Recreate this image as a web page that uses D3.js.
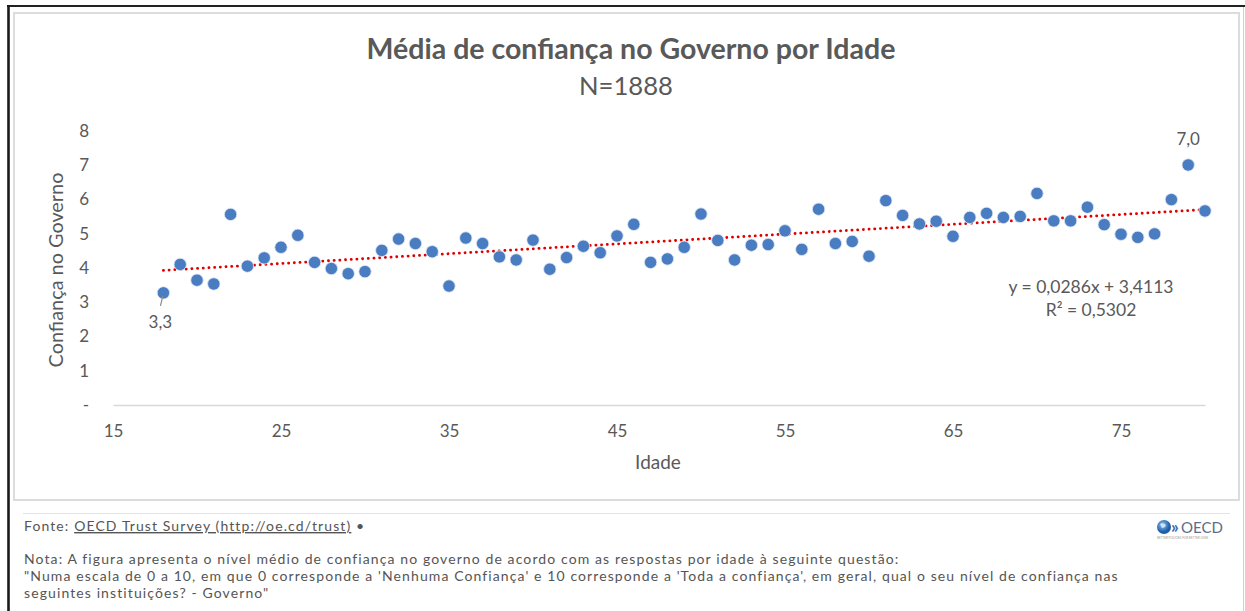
<!DOCTYPE html>
<html><head><meta charset="utf-8">
<script src="https://cdn.jsdelivr.net/npm/d3@7"></script>
<style>body{margin:0;background:#fff;} svg{display:block;}</style>
</head><body><svg id="c" width="1245" height="611"></svg>
<script>
// ---- data ----
const ages = [18,19,20,21,22,23,24,25,26,27,28,29,30,31,32,33,34,35,36,37,38,39,40,41,42,43,44,45,46,47,48,49,
  50,51,52,53,54,55,56,57,58,59,60,61,62,63,64,65,66,67,68,69,70,71,72,73,74,75,76,77,78,79,80];
const confidence = [3.27,4.10,3.64,3.53,5.56,4.05,4.29,4.60,4.95,4.16,3.98,3.83,3.89,4.51,4.84,4.71,4.47,3.47,4.87,4.71,
  4.32,4.23,4.81,3.96,4.30,4.63,4.44,4.93,5.27,4.16,4.26,4.60,5.57,4.80,4.23,4.66,4.68,5.08,4.54,5.71,4.71,4.77,
  4.34,5.96,5.53,5.28,5.36,4.92,5.47,5.59,5.47,5.50,6.17,5.37,5.37,5.77,5.26,4.98,4.89,4.99,5.99,7.00,5.66];
const xTicks = [15,25,35,45,55,65,75];
const yTicks = [0,1,2,3,4,5,6,7,8];
const yTickLabels = ["-","1","2","3","4","5","6","7","8"];
const trendSlope = 0.0286;
const trendIntercept = 3.4113;
const labeledAges = [18,79];
const titleText = "Média de confiança no Governo por Idade";
const subtitleText = "N=1888";
const xTitle = "Idade";
const yTitle = "Confiança no Governo";
const eqLines = ["y = 0,0286x + 3,4113", "R² = 0,5302"];
const sourcePrefix = "Fonte: ";
const sourceLink = "OECD Trust Survey (http://oe.cd/trust)";
const noteLines = [
  "Nota: A figura apresenta o nível médio de confiança no governo de acordo com as respostas por idade à seguinte questão:",
  "\"Numa escala de 0 a 10, em que 0 corresponde a 'Nenhuma Confiança' e 10 corresponde a 'Toda a confiança', em geral, qual o seu nível de confiança nas",
  "seguintes instituições? - Governo\""
];

// ---- drawing ----
const svg = d3.select("#c");
const FONT = "Lato, 'Open Sans', sans-serif";
const TXT = "#595959";

function fit(sel, target){
  const w = sel.node().getComputedTextLength();
  const fs = parseFloat(sel.attr("font-size"));
  sel.attr("font-size", fs*target/w);
  return fs*target/w;
}

// frame
svg.append("rect").attr("x",0).attr("y",0).attr("width",1245).attr("height",611).attr("fill","#fff");
svg.append("line").attr("x1",7).attr("x2",1245).attr("y1",6).attr("y2",6).attr("stroke","#222").attr("stroke-width",2);
svg.append("line").attr("x1",8.5).attr("x2",8.5).attr("y1",5).attr("y2",611).attr("stroke","#1a1a1a").attr("stroke-width",2.6);
svg.append("line").attr("x1",1243.5).attr("x2",1243.5).attr("y1",7).attr("y2",611).attr("stroke","#d0d0d0").attr("stroke-width",1);
svg.append("rect").attr("x",14).attr("y",13).attr("width",1225).attr("height",487)
  .attr("fill","none").attr("stroke","#dcdcdc").attr("stroke-width",2);
svg.append("line").attr("x1",23).attr("x2",1230).attr("y1",513.5).attr("y2",513.5).attr("stroke","#e3e3e3").attr("stroke-width",1);

// scales
const x = d3.scaleLinear().domain([15,80]).range([113,1205]);
const y = d3.scaleLinear().domain([0,8]).range([405,130.7]);

// titles
const t1 = svg.append("text").attr("x",631).attr("y",59).attr("text-anchor","middle")
  .attr("font-family",FONT).attr("font-weight","bold").attr("font-size",28).attr("fill",TXT).text(titleText);
fit(t1,529);
const t2 = svg.append("text").attr("x",626).attr("y",95).attr("text-anchor","middle")
  .attr("font-family",FONT).attr("font-size",26).attr("fill",TXT).text(subtitleText);
fit(t2,94);

// x axis
const gx = svg.append("g").attr("transform",`translate(0,${y(0)})`)
  .call(d3.axisBottom(x).tickValues(xTicks).tickSize(0).tickPadding(20).tickFormat(d3.format("d")));
gx.select(".domain").attr("stroke","#d9d9d9").attr("stroke-width",1.5);
gx.selectAll("text").attr("font-family",FONT).attr("font-size",17).attr("fill",TXT);

// y axis
const gy = svg.append("g").attr("transform",`translate(${x(15)},0)`)
  .call(d3.axisLeft(y).tickValues(yTicks).tickSize(0).tickPadding(24).tickFormat((d,i)=>yTickLabels[i]));
gy.select(".domain").remove();
gy.selectAll("text").attr("font-family",FONT).attr("font-size",17).attr("fill",TXT);

// axis titles
svg.append("text").attr("x",658).attr("y",469).attr("text-anchor","middle")
  .attr("font-family",FONT).attr("font-size",19).attr("fill",TXT).text(xTitle);
const yt = svg.append("text").attr("transform","translate(63,270) rotate(-90)").attr("text-anchor","middle")
  .attr("font-family",FONT).attr("font-size",19).attr("fill",TXT).text(yTitle);
fit(yt,195);

// trendline
const tx0 = d3.min(ages), tx1 = d3.max(ages);
svg.append("line")
  .attr("x1",x(tx0)).attr("y1",y(trendSlope*tx0+trendIntercept))
  .attr("x2",x(tx1)).attr("y2",y(trendSlope*tx1+trendIntercept))
  .attr("stroke","#e00000").attr("stroke-width",2.8).attr("stroke-linecap","round")
  .attr("stroke-dasharray","0.1,5.6");

// points
const pts = ages.map((a,i)=>({age:a, v:confidence[i]}));
svg.append("g").selectAll("circle").data(pts).join("circle")
  .attr("cx",d=>x(d.age)).attr("cy",d=>y(d.v)).attr("r",6.2)
  .attr("fill","#4a7cc2").attr("stroke","#dfe8f5").attr("stroke-width",0.8);

// data labels
const fmt = v => d3.format(".1f")(v).replace(".",",");
pts.filter(d=>labeledAges.includes(d.age)).forEach(d=>{
  if (d.age === labeledAges[0]) {
    svg.append("line").attr("x1",x(d.age)-0.5).attr("y1",y(d.v)+3).attr("x2",x(d.age)-3).attr("y2",y(d.v)+13)
      .attr("stroke","#8c8c8c").attr("stroke-width",1.2);
    svg.append("text").attr("x",x(d.age)-3).attr("y",y(d.v)+35).attr("text-anchor","middle")
      .attr("font-family",FONT).attr("font-size",17).attr("fill",TXT).text(fmt(d.v));
  } else {
    svg.append("text").attr("x",x(d.age)).attr("y",y(d.v)-20).attr("text-anchor","middle")
      .attr("font-family",FONT).attr("font-size",17).attr("fill",TXT).text(fmt(d.v));
  }
});

// equation
const e1 = svg.append("text").attr("x",1091).attr("y",293).attr("text-anchor","middle")
  .attr("font-family",FONT).attr("font-size",17).attr("fill",TXT).text(eqLines[0]);
fit(e1,165);
const e2 = svg.append("text").attr("x",1091).attr("y",316).attr("text-anchor","middle")
  .attr("font-family",FONT).attr("font-size",e1.attr("font-size")).attr("fill",TXT).text(eqLines[1]);

// footer
const FFONT = "Lato, 'Open Sans', sans-serif";
const FFS = 14;
const n2 = svg.append("text").attr("x",24).attr("y",581).attr("font-family",FFONT).attr("font-size",FFS)
  .attr("fill","#555").text(noteLines[1]);
const w2 = n2.node().getComputedTextLength();
const ls = Math.max(0, (1094 - w2) / noteLines[1].length);
n2.attr("letter-spacing", ls);
function footLine(yPos){
  return svg.append("text").attr("x",24).attr("y",yPos).attr("font-family",FFONT).attr("font-size",FFS)
    .attr("letter-spacing", ls).attr("fill","#555");
}
footLine(564).text(noteLines[0]);
footLine(598).text(noteLines[2]);
const src = footLine(531);
src.append("tspan").text(sourcePrefix);
src.append("tspan").attr("text-decoration","underline").text(sourceLink);
src.append("tspan").text(" •");

// OECD logo
const logo = svg.append("g");
const grad = svg.append("defs").append("radialGradient").attr("id","gl").attr("cx","40%").attr("cy","35%");
grad.append("stop").attr("offset","0%").attr("stop-color","#8fc4ee");
grad.append("stop").attr("offset","100%").attr("stop-color","#1f5fa8");
logo.append("circle").attr("cx",1164).attr("cy",527).attr("r",7).attr("fill","url(#gl)");
logo.append("path").attr("d","M1160,524 q3,-2 6,1 q-1,3 -4,3 z").attr("fill","#dff0ff").attr("opacity",0.8);
logo.append("text").attr("x",1171).attr("y",533).attr("font-family",FONT).attr("font-size",17)
  .attr("fill","#2d6db5").attr("font-weight","bold").text("»");
logo.append("text").attr("x",1181).attr("y",533).attr("font-family",FONT).attr("font-size",15)
  .attr("fill","#5a6e8a").text("OECD");
logo.append("text").attr("x",1157).attr("y",539).attr("font-family",FONT).attr("font-size",3)
  .attr("fill","#999").text("BETTER POLICIES FOR BETTER LIVES");
</script>
</body></html>
